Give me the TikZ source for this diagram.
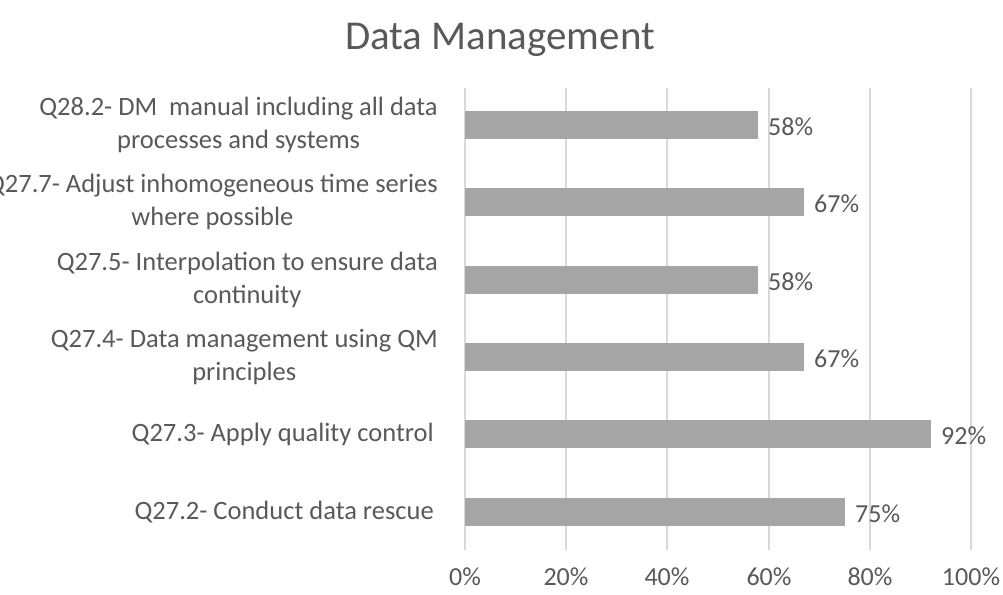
\documentclass[tikz,border=0pt]{standalone}
\usepackage{fontspec}
\setmainfont{Carlito}
\definecolor{textgrey}{HTML}{595959}
\definecolor{bargrey}{HTML}{A5A5A5}
\definecolor{gridgrey}{HTML}{D9D9D9}
\tikzset{
  bar/.style={fill=bargrey},
  gridline/.style={draw=gridgrey, line width=1.5pt},
  catlabel/.style={anchor=east, align=center, text=textgrey, inner sep=0pt,
    font=\fontsize{26.5}{33}\selectfont},
  vallabel/.style={anchor=west, text=textgrey, inner sep=0pt,
    font=\fontsize{26}{32}\selectfont},
  ticklabel/.style={text=textgrey, inner sep=0pt,
    font=\fontsize{26}{32}\selectfont}
}
\begin{document}
\begin{tikzpicture}[x=1pt, y=-1pt]
    \useasboundingbox (0,0) rectangle (1003,594);
    \clip (0,0) rectangle (1003,594);

    % the title
    \node[text=textgrey, font=\fontsize{41}{49}\selectfont] (title) at (500,40) {Data Management};

    % the gridlines (0% to 100%)
    \draw[gridline] (465,88) -- (465,550);
    \draw[gridline] (566,88) -- (566,550);
    \draw[gridline] (667,88) -- (667,550);
    \draw[gridline] (769,88) -- (769,550);
    \draw[gridline] (870,88) -- (870,550);
    \draw[gridline] (971,88) -- (971,550);

    % the ticks under the axis
    \node[ticklabel] (t0) at (465,577) {0\%};
    \node[ticklabel] (t20) at (566,577) {20\%};
    \node[ticklabel] (t40) at (667,577) {40\%};
    \node[ticklabel] (t60) at (769,577) {60\%};
    \node[ticklabel] (t80) at (870,577) {80\%};
    \node[ticklabel] (t100) at (971,577) {100\%};

    % the bars
    \fill[bar] (465,111) rectangle (758,139);
    \fill[bar] (465,188) rectangle (804,216);
    \fill[bar] (465,266) rectangle (758,294);
    \fill[bar] (465,343) rectangle (804,371);
    \fill[bar] (465,420) rectangle (931,448);
    \fill[bar] (465,498) rectangle (845,526);

    % the values at the end of the bars
    \node[vallabel] (v282) at (768,127) {58\%};
    \node[vallabel] (v277) at (814,204) {67\%};
    \node[vallabel] (v275) at (768,282) {58\%};
    \node[vallabel] (v274) at (814,359) {67\%};
    \node[vallabel] (v273) at (941,436) {92\%};
    \node[vallabel] (v272) at (855,514) {75\%};

    % the questions
    \node[catlabel] (q282) at (438,125) {Q28.2- DM\ \ manual including all data\\processes and systems};
    \node[catlabel] (q277) at (438,202) {Q27.7- Adjust inhomogeneous time series\\where possible};
    \node[catlabel] (q275) at (438,280) {Q27.5- Interpolation to ensure data\\continuity};
    \node[catlabel] (q274) at (438,357) {Q27.4- Data management using QM\\principles};
    \node[catlabel] (q273) at (434,434) {Q27.3- Apply quality control};
    \node[catlabel] (q272) at (434,512) {Q27.2- Conduct data rescue};
\end{tikzpicture}
\end{document}
